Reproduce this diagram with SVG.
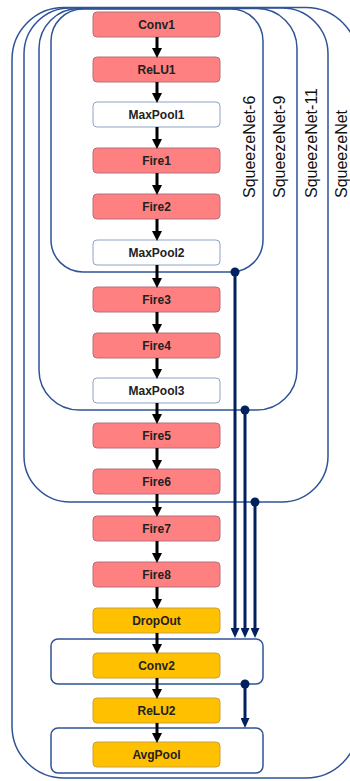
<svg xmlns="http://www.w3.org/2000/svg" width="350" height="781" viewBox="0 0 350 781">
  <style>
    .frame { fill: none; stroke: #2F5496; stroke-width: 1.5; }
    .box rect { stroke-width: 1; }
    .red rect { fill: #FF8080; stroke: #B4707E; }
    .pool rect { fill: #FFFFFF; stroke: #8EA2C8; }
    .gold rect { fill: #FFC000; stroke: #C8A040; }
    .box text { font-family: "Liberation Sans", Arial, sans-serif; font-weight: bold; font-size: 12px; fill: #222222; text-anchor: middle; }
    .label { font-family: "Liberation Sans", Arial, sans-serif; font-size: 16px; fill: #111111; }
    .flow { stroke: #000000; stroke-width: 3; fill: none; marker-end: url(#headBlack); }
    .skip { stroke: #002060; stroke-width: 3; fill: none; marker-end: url(#headNavy); }
    .dot { fill: #002060; }
  </style>
  <defs>
    <marker id="headBlack" markerUnits="userSpaceOnUse" markerWidth="10" markerHeight="10" refX="0" refY="4.5" orient="auto" viewBox="0 0 9 9">
      <path d="M0,0 L9,4.5 L0,9 z" fill="#000000"/>
    </marker>
    <marker id="headNavy" markerUnits="userSpaceOnUse" markerWidth="10" markerHeight="9" refX="0" refY="4.5" orient="auto" viewBox="0 0 10 9">
      <path d="M0,0 L10,4.5 L0,9 z" fill="#002060"/>
    </marker>
  </defs>

  <!-- nested model scopes -->
  <g id="scope-squeezenet">
    <rect class="frame" x="12" y="7.5" width="346" height="770.5" rx="52" ry="52"/>
    <text class="label" transform="translate(347,198) rotate(-90)">SqueezeNet</text>
  </g>
  <g id="scope-squeezenet-11">
    <rect class="frame" x="24" y="8" width="304" height="494" rx="46" ry="46"/>
    <text class="label" transform="translate(317,198) rotate(-90)">SqueezeNet-11</text>
  </g>
  <g id="scope-squeezenet-9">
    <rect class="frame" x="39" y="8.5" width="258" height="401.5" rx="40" ry="40"/>
    <text class="label" transform="translate(285,198) rotate(-90)">SqueezeNet-9</text>
  </g>
  <g id="scope-squeezenet-6">
    <rect class="frame" x="51" y="9" width="212" height="263" rx="32" ry="32"/>
    <text class="label" transform="translate(255,198) rotate(-90)">SqueezeNet-6</text>
  </g>
  <g id="group-conv2">
    <rect class="frame" x="51" y="639" width="212" height="45" rx="7" ry="7"/>
  </g>
  <g id="group-avgpool">
    <rect class="frame" x="51" y="728" width="212" height="45" rx="7" ry="7"/>
  </g>

  <!-- layers -->
  <g id="conv1" class="box red"><rect x="93" y="12" width="127" height="25" rx="4"/><text x="156.5" y="29">Conv1</text></g>
  <g id="relu1" class="box red"><rect x="93" y="57" width="127" height="25" rx="4"/><text x="156.5" y="74">ReLU1</text></g>
  <g id="maxpool1" class="box pool"><rect x="93" y="102" width="127" height="25" rx="4"/><text x="156.5" y="119">MaxPool1</text></g>
  <g id="fire1" class="box red"><rect x="93" y="148" width="127" height="25" rx="4"/><text x="156.5" y="165">Fire1</text></g>
  <g id="fire2" class="box red"><rect x="93" y="194" width="127" height="25" rx="4"/><text x="156.5" y="211">Fire2</text></g>
  <g id="maxpool2" class="box pool"><rect x="93" y="240" width="127" height="25" rx="4"/><text x="156.5" y="257">MaxPool2</text></g>
  <g id="fire3" class="box red"><rect x="93" y="287" width="127" height="25" rx="4"/><text x="156.5" y="304">Fire3</text></g>
  <g id="fire4" class="box red"><rect x="93" y="333" width="127" height="25" rx="4"/><text x="156.5" y="350">Fire4</text></g>
  <g id="maxpool3" class="box pool"><rect x="93" y="378" width="127" height="25" rx="4"/><text x="156.5" y="395">MaxPool3</text></g>
  <g id="fire5" class="box red"><rect x="93" y="423" width="127" height="25" rx="4"/><text x="156.5" y="440">Fire5</text></g>
  <g id="fire6" class="box red"><rect x="93" y="469" width="127" height="25" rx="4"/><text x="156.5" y="486">Fire6</text></g>
  <g id="fire7" class="box red"><rect x="93" y="516" width="127" height="25" rx="4"/><text x="156.5" y="533">Fire7</text></g>
  <g id="fire8" class="box red"><rect x="93" y="562" width="127" height="25" rx="4"/><text x="156.5" y="579">Fire8</text></g>
  <g id="dropout" class="box gold"><rect x="93" y="608" width="127" height="25" rx="4"/><text x="156.5" y="625">DropOut</text></g>
  <g id="conv2" class="box gold"><rect x="93" y="653" width="127" height="25" rx="4"/><text x="156.5" y="670">Conv2</text></g>
  <g id="relu2" class="box gold"><rect x="93" y="698" width="127" height="25" rx="4"/><text x="156.5" y="715">ReLU2</text></g>
  <g id="avgpool" class="box gold"><rect x="93" y="742" width="127" height="25" rx="4"/><text x="156.5" y="759">AvgPool</text></g>

  <!-- connectors -->
  <g id="connectors">
    <line class="flow" x1="157" y1="37" x2="157" y2="48"/>
    <line class="flow" x1="157" y1="82" x2="157" y2="93"/>
    <line class="flow" x1="157" y1="127" x2="157" y2="139"/>
    <line class="flow" x1="157" y1="173" x2="157" y2="185"/>
    <line class="flow" x1="157" y1="219" x2="157" y2="231"/>
    <line class="flow" x1="157" y1="265" x2="157" y2="278"/>
    <line class="flow" x1="157" y1="312" x2="157" y2="324"/>
    <line class="flow" x1="157" y1="358" x2="157" y2="369"/>
    <line class="flow" x1="157" y1="403" x2="157" y2="414"/>
    <line class="flow" x1="157" y1="448" x2="157" y2="460"/>
    <line class="flow" x1="157" y1="494" x2="157" y2="507"/>
    <line class="flow" x1="157" y1="541" x2="157" y2="553"/>
    <line class="flow" x1="157" y1="587" x2="157" y2="599"/>
    <line class="flow" x1="157" y1="633" x2="157" y2="644"/>
    <line class="flow" x1="157" y1="678" x2="157" y2="689"/>
    <line class="flow" x1="157" y1="723" x2="157" y2="733"/>

    <line class="skip" x1="235" y1="272" x2="235" y2="628"/>
    <circle class="dot" cx="235" cy="272" r="4.5"/>
    <line class="skip" x1="245" y1="410" x2="245" y2="628"/>
    <circle class="dot" cx="245" cy="410" r="4.5"/>
    <line class="skip" x1="255" y1="502" x2="255" y2="628"/>
    <circle class="dot" cx="255" cy="502" r="4.5"/>
    <line class="skip" x1="245" y1="684" x2="245" y2="718"/>
    <circle class="dot" cx="245" cy="684" r="4.5"/>
  </g>
</svg>
